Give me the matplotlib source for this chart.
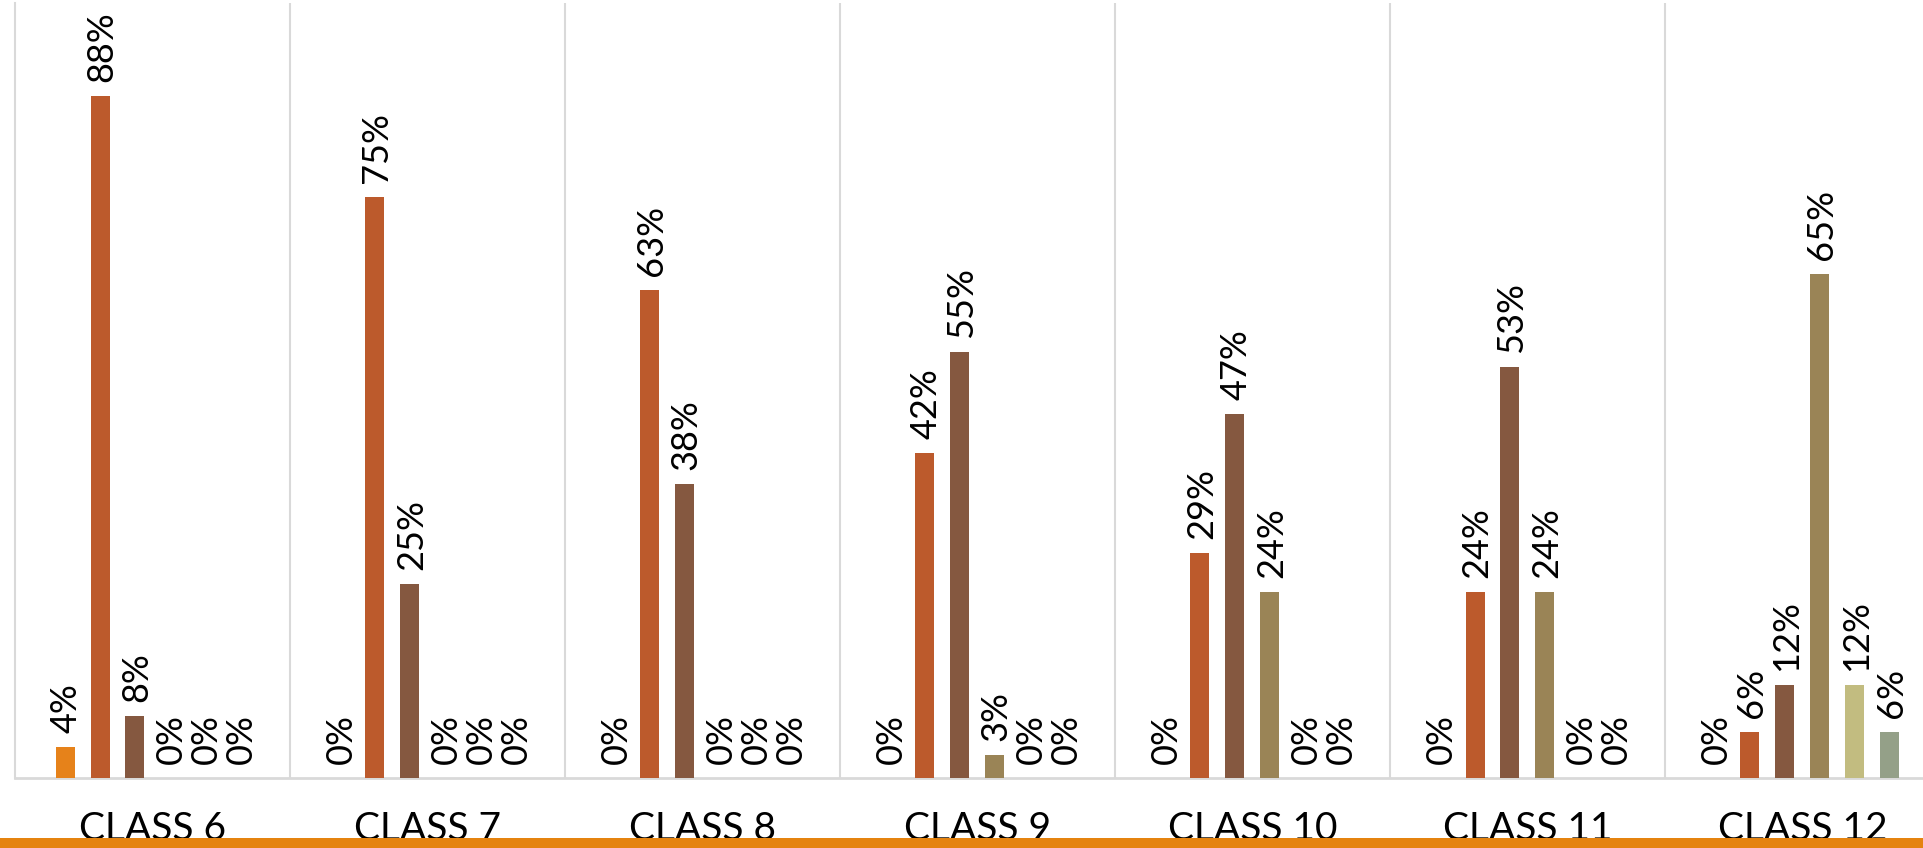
import matplotlib
matplotlib.use("Agg")
import matplotlib.pyplot as plt
from matplotlib.patches import Rectangle
import matplotlib.transforms as mtransforms
import numpy as np

categories = ["CLASS 6", "CLASS 7", "CLASS 8", "CLASS 9", "CLASS 10", "CLASS 11", "CLASS 12"]
series_1 = [4, 0, 0, 0, 0, 0, 0]
series_2 = [88, 75, 63, 42, 29, 24, 6]
series_3 = [8, 25, 38, 55, 47, 53, 12]
series_4 = [0, 0, 0, 3, 24, 24, 65]
series_5 = [0, 0, 0, 0, 0, 0, 12]
series_6 = [0, 0, 0, 0, 0, 0, 6]
series = [series_1, series_2, series_3, series_4, series_5, series_6]
colors = ["#E6821A", "#BC5A2C", "#855840", "#9A8456", "#C2BC80", "#94A088"]

plt.rcParams['font.family'] = ['Lato', 'DejaVu Sans']

W, H = 1924, 848
fig = plt.figure(figsize=(W / 100, H / 100), dpi=100)
ax = fig.add_axes([15 / W, 70 / H, 1925 / W, 775 / H])

x = np.arange(len(categories))
pitch = 35 / 275
bw = 19 / 275
for j, vals in enumerate(series):
    xs = x + (j - 2.5) * pitch
    v = np.array(vals) / 100.0
    ax.bar(xs, v, width=bw, color=colors[j], zorder=3)
    for xi, vi, lab in zip(xs, v, vals):
        ax.annotate(f"{lab}%", (xi, vi), xytext=(1, 10), textcoords="offset points",
                    rotation=90, ha="center", va="bottom", fontsize=26, color="black", zorder=4)

ax.set_xlim(-0.5, len(categories) - 0.5)
ax.set_ylim(0, 1.0)
for s in ["top", "right"]:
    ax.spines[s].set_visible(False)
ax.spines["left"].set_color("#D9D9D9")
ax.spines["left"].set_linewidth(1.5)
ax.spines["bottom"].set_color("#D9D9D9")
ax.spines["bottom"].set_linewidth(2)
ax.set_xticks([])
ax.set_yticks([])
for i in range(1, len(categories)):
    ax.axvline(i - 0.5, color="#D9D9D9", linewidth=1.5, zorder=1)

trans = mtransforms.blended_transform_factory(ax.transData, fig.transFigure)
for i, c in enumerate(categories):
    ax.text(i, (H - 840) / H, c, transform=trans,
            ha="center", va="baseline", fontsize=28, color="black", clip_on=False)

fig.patches.append(Rectangle((0, 0), 1, 10 / H, transform=fig.transFigure,
                             facecolor="#E5830F", edgecolor="none", zorder=10))

fig.savefig("out.png", dpi=100)
